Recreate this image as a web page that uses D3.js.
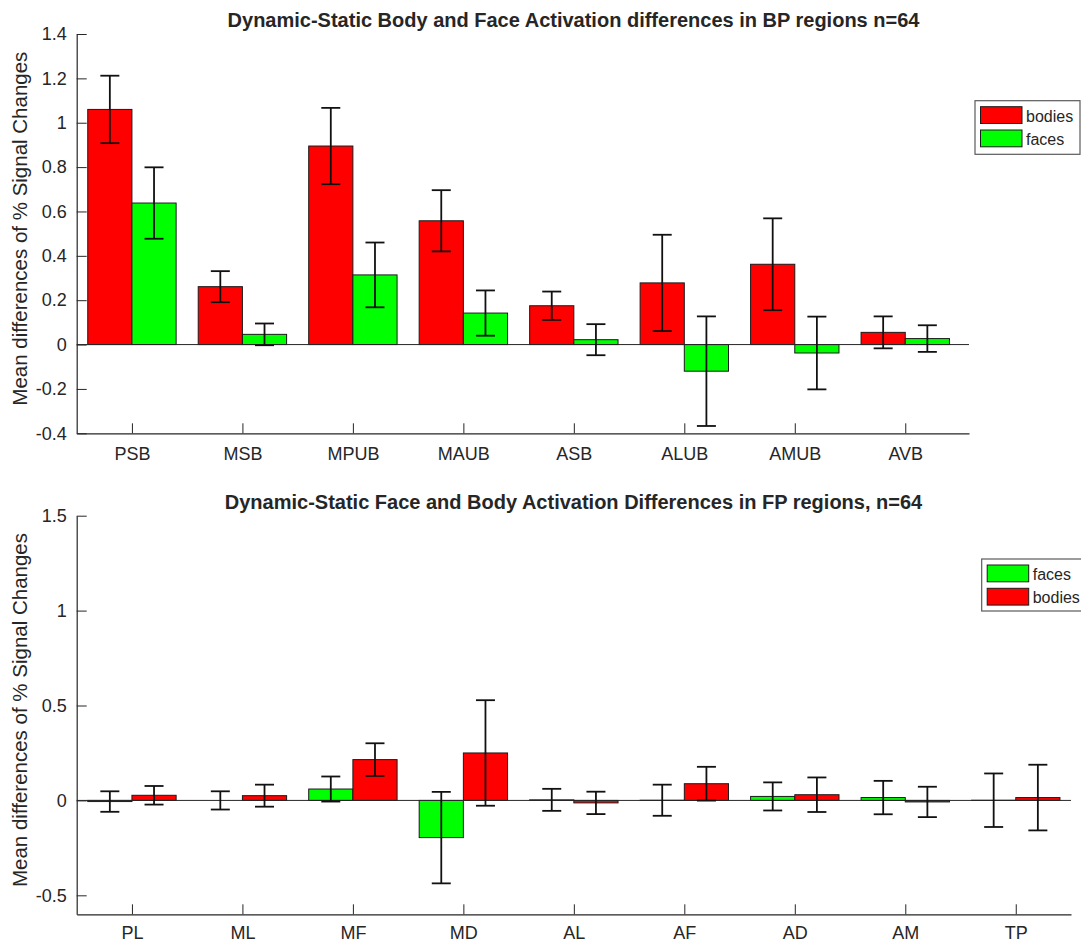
<!DOCTYPE html>
<html>
<head>
<meta charset="utf-8">
<script src="https://cdn.jsdelivr.net/npm/d3@7"></script>
<style>
  html, body { margin: 0; padding: 0; background: #fff; }
  svg { display: block; }
  text { font-family: "Liberation Sans", Arial, Helvetica, sans-serif; fill: #262626; }
</style>
</head>
<body>
<svg id="chart" width="1081" height="943"></svg>
<script>
// ---------- Data ----------
const bpCategories = ["PSB", "MSB", "MPUB", "MAUB", "ASB", "ALUB", "AMUB", "AVB"];
const bpBodies     = [1.06, 0.261, 0.895, 0.558, 0.175, 0.278, 0.362, 0.055];
const bpBodiesErr  = [0.152, 0.07, 0.172, 0.138, 0.064, 0.217, 0.207, 0.072];
const bpFaces      = [0.638, 0.046, 0.314, 0.142, 0.022, -0.12, -0.038, 0.027];
const bpFacesErr   = [0.161, 0.049, 0.146, 0.102, 0.07, 0.247, 0.164, 0.06];
const bpYTicks     = [-0.4, -0.2, 0, 0.2, 0.4, 0.6, 0.8, 1, 1.2, 1.4];

const fpCategories = ["PL", "ML", "MF", "MD", "AL", "AF", "AD", "AM", "TP"];
const fpFaces      = [-0.006, 0.0, 0.06, -0.196, 0.003, 0.001, 0.021, 0.015, 0.001];
const fpFacesErr   = [0.054, 0.048, 0.066, 0.241, 0.058, 0.082, 0.074, 0.088, 0.141];
const fpBodies     = [0.027, 0.025, 0.215, 0.25, -0.013, 0.088, 0.03, -0.008, 0.015];
const fpBodiesErr  = [0.049, 0.058, 0.086, 0.278, 0.059, 0.089, 0.091, 0.08, 0.173];
const fpYTicks     = [-0.5, 0, 0.5, 1, 1.5];

const titleTop = "Dynamic-Static Body and Face Activation differences in BP regions n=64";
const titleBot = "Dynamic-Static Face and Body Activation Differences in FP regions, n=64";
const yLabel = "Mean differences of % Signal Changes";

const RED = "#ff0000", GREEN = "#00ff00", AXIS = "#262626";

const svg = d3.select("#chart");

function fmt(v) {
  if (Math.abs(v) < 1e-9) return "0";
  return String(+v.toFixed(2));
}

function drawPanel(opt) {
  const g = svg.append("g");
  const x = d3.scaleLinear().domain(opt.xDomain).range([opt.left, opt.right]);
  const y = d3.scaleLinear().domain(opt.yDomain).range([opt.bottom, opt.top]);
  const bw = x(0.4) - x(0);

  // bars
  opt.series.forEach((s, si) => {
    const off = si === 0 ? -0.4 : 0;
    g.selectAll(null).data(s.values).enter().append("rect")
      .attr("x", (d, i) => x(i + 1 + off))
      .attr("width", bw)
      .attr("y", d => y(Math.max(0, d)))
      .attr("height", d => Math.abs(y(0) - y(d)))
      .attr("fill", s.color)
      .attr("stroke", "#1a1a1a")
      .attr("stroke-width", 1);
  });

  // baseline
  g.append("line")
    .attr("x1", opt.left).attr("x2", opt.right)
    .attr("y1", y(0)).attr("y2", y(0))
    .attr("stroke", AXIS).attr("stroke-width", 1);

  // error bars
  opt.series.forEach((s, si) => {
    const off = si === 0 ? -0.2 : 0.2;
    const cap = 9.5;
    const eg = g.selectAll(null).data(s.values).enter().append("g");
    eg.append("line")
      .attr("x1", (d, i) => x(i + 1 + off)).attr("x2", (d, i) => x(i + 1 + off))
      .attr("y1", (d, i) => y(d + s.err[i])).attr("y2", (d, i) => y(d - s.err[i]))
      .attr("stroke", "#111").attr("stroke-width", 1.8);
    eg.append("line")
      .attr("x1", (d, i) => x(i + 1 + off) - cap).attr("x2", (d, i) => x(i + 1 + off) + cap)
      .attr("y1", (d, i) => y(d + s.err[i])).attr("y2", (d, i) => y(d + s.err[i]))
      .attr("stroke", "#111").attr("stroke-width", 1.8);
    eg.append("line")
      .attr("x1", (d, i) => x(i + 1 + off) - cap).attr("x2", (d, i) => x(i + 1 + off) + cap)
      .attr("y1", (d, i) => y(d - s.err[i])).attr("y2", (d, i) => y(d - s.err[i]))
      .attr("stroke", "#111").attr("stroke-width", 1.8);
  });

  // y axis
  const yAxis = d3.axisLeft(y).tickValues(opt.yTicks).tickFormat(fmt)
    .tickSizeInner(-10).tickSizeOuter(0).tickPadding(10);
  const ya = g.append("g").attr("transform", `translate(${opt.left},0)`).call(yAxis);
  ya.select(".domain").attr("stroke", AXIS).attr("stroke-width", 1.2);
  ya.selectAll(".tick line").attr("stroke", AXIS).attr("stroke-width", 1);
  ya.selectAll(".tick text").style("font-size", "18px").attr("fill", AXIS)
    .style("font-family", "'Liberation Sans', Arial, sans-serif");

  // x axis
  const xAxis = d3.axisBottom(x).tickValues(opt.categories.map((c, i) => i + 1))
    .tickFormat((d) => opt.categories[d - 1])
    .tickSizeInner(-10).tickSizeOuter(0).tickPadding(opt.xPad);
  const xa = g.append("g").attr("transform", `translate(0,${opt.bottom})`).call(xAxis);
  xa.select(".domain").attr("stroke", AXIS).attr("stroke-width", 1.2);
  xa.selectAll(".tick line").attr("stroke", AXIS).attr("stroke-width", 1);
  xa.selectAll(".tick text").style("font-size", "18px").attr("fill", AXIS)
    .style("font-family", "'Liberation Sans', Arial, sans-serif");

  // title
  g.append("text").attr("x", opt.titleX).attr("y", opt.titleY)
    .attr("text-anchor", "middle").style("font-size", "20px").style("font-weight", "bold")
    .attr("fill", "#000").text(opt.title);

  // y label
  g.append("text")
    .attr("transform", `translate(27,${(opt.top + opt.bottom) / 2 - 5}) rotate(-90)`)
    .attr("text-anchor", "middle").style("font-size", "20.5px").text(yLabel);

  // legend
  const L = opt.legend;
  const lg = g.append("g");
  lg.append("rect").attr("x", L.x).attr("y", L.y).attr("width", L.w).attr("height", L.h)
    .attr("fill", "#fff").attr("stroke", "#5a5a5a").attr("stroke-width", 1.2);
  L.items.forEach((it, k) => {
    lg.append("rect").attr("x", L.x + 5.5).attr("y", L.y + 6 + k * 23.3)
      .attr("width", 41.5).attr("height", 16.8)
      .attr("fill", it.color).attr("stroke", "#1a1a1a").attr("stroke-width", 1);
    lg.append("text").attr("x", L.x + 51).attr("y", L.y + 21 + k * 23.3)
      .style("font-size", "16px").attr("fill", "#000").text(it.label);
  });
}

drawPanel({
  categories: bpCategories,
  xDomain: [0.5, 8.577], yDomain: [-0.4, 1.4],
  left: 76.7, right: 969, top: 34, bottom: 433.3,
  yTicks: bpYTicks, xPad: 14,
  series: [
    { values: bpBodies, err: bpBodiesErr, color: RED },
    { values: bpFaces, err: bpFacesErr, color: GREEN }
  ],
  title: titleTop, titleX: 573.5, titleY: 26.5,
  legend: { x: 975, y: 100.7, w: 105, h: 53.6,
    items: [{ label: "bodies", color: RED }, { label: "faces", color: GREEN }] }
});

drawPanel({
  categories: fpCategories,
  xDomain: [0.5, 9.5], yDomain: [-0.6, 1.5],
  left: 76.7, right: 1071, top: 515.7, bottom: 914.3,
  yTicks: fpYTicks, xPad: 11.5,
  series: [
    { values: fpFaces, err: fpFacesErr, color: GREEN },
    { values: fpBodies, err: fpBodiesErr, color: RED }
  ],
  title: titleBot, titleX: 573.5, titleY: 509,
  legend: { x: 981.7, y: 559, w: 110, h: 52,
    items: [{ label: "faces", color: GREEN }, { label: "bodies", color: RED }] }
});
</script>
</body>
</html>
